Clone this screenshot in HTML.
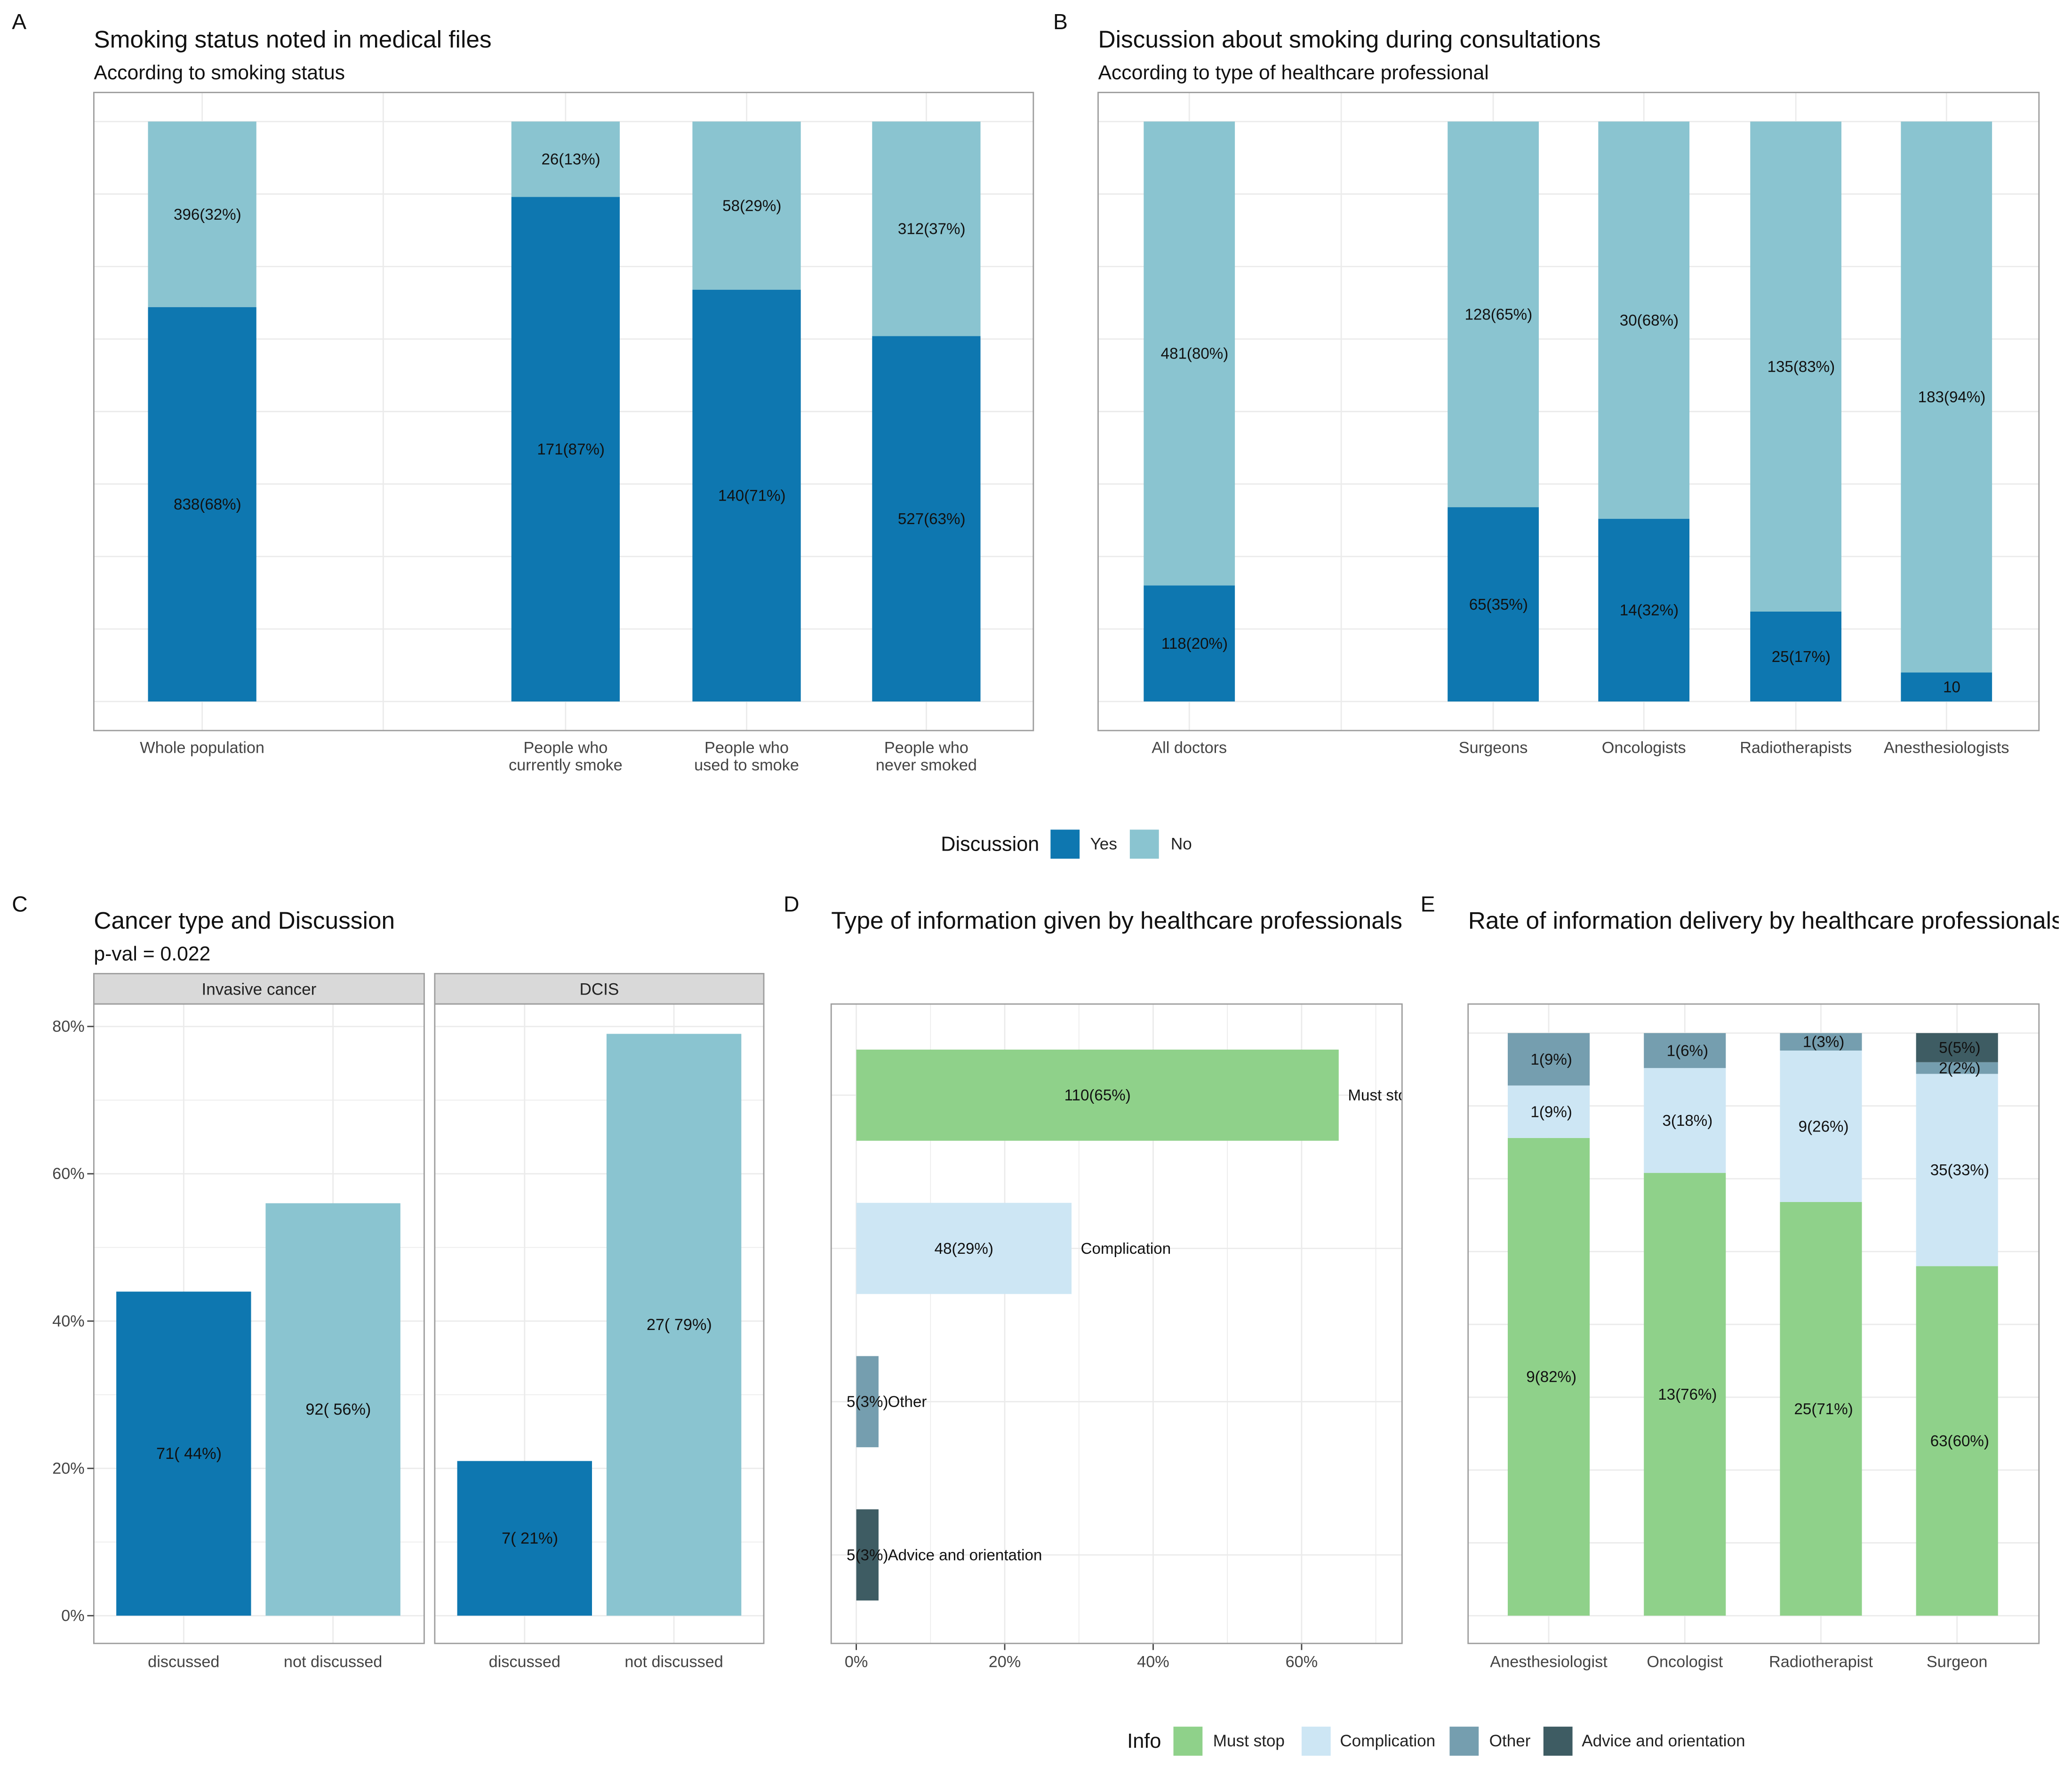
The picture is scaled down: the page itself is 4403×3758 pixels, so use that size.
<!DOCTYPE html>
<html><head><meta charset="utf-8"><style>
html,body{margin:0;padding:0;background:#fff;overflow:hidden;}
svg{display:block;font-family:"Liberation Sans",Arial,sans-serif;}
</style></head><body>
<svg id="fig" width="4403" height="3758" viewBox="0 0 1568 1338.3" xmlns="http://www.w3.org/2000/svg"></svg>
<script>
// Panel A data
const aCats = ["Whole population", "", "People who\ncurrently smoke", "People who\nused to smoke", "People who\nnever smoked"];
const aYes = [68, null, 87, 71, 63];
const aYesLbl = ["838(68%)", "", "171(87%)", "140(71%)", "527(63%)"];
const aNoLbl = ["396(32%)", "", "26(13%)", "58(29%)", "312(37%)"];
// Panel B data
const bCats = ["All doctors", "", "Surgeons", "Oncologists", "Radiotherapists", "Anesthesiologists"];
const bYes = [20, null, 33.5, 31.5, 15.5, 5];
const bYesLbl = ["118(20%)", "", "65(35%)", "14(32%)", "25(17%)", "10"];
const bNoLbl = ["481(80%)", "", "128(65%)", "30(68%)", "135(83%)", "183(94%)"];
// Panel C data
const cFacets = ["Invasive cancer", "DCIS"];
const cCats = ["discussed", "not discussed"];
const cVals = [[44, 56], [21, 79]];
const cLbls = [["71( 44%)", "92( 56%)"], ["7( 21%)", "27( 79%)"]];
const cTicks = [0, 20, 40, 60, 80];
// Panel D data
const dCats = ["Must stop", "Complication", "Other", "Advice and orientation"];
const dVals = [65, 29, 3, 3];
const dLbls = ["110(65%)", "48(29%)", "5(3%)", "5(3%)"];
const dTicks = [0, 20, 40, 60];
// Panel E data
const eCats = ["Anesthesiologist", "Oncologist", "Radiotherapist", "Surgeon"];
const eMust = [82, 76, 71, 60];
const eComp = [9, 18, 26, 33];
const eOther = [9, 6, 3, 2];
const eAdvice = [0, 0, 0, 5];
const eMustLbl = ["9(82%)", "13(76%)", "25(71%)", "63(60%)"];
const eCompLbl = ["1(9%)", "3(18%)", "9(26%)", "35(33%)"];
const eOtherLbl = ["1(9%)", "1(6%)", "1(3%)", "2(2%)"];
const eAdviceLbl = ["", "", "", "5(5%)"];

const YES="#0e77b0", NO="#8ac4d0", MUST="#8fd18a", COMP="#cde6f4", OTH="#759eaf", ADV="#3e5c63", GRID="#ebebeb", BORDER="#9d9d9d";
const VL=11.8, TK=12.2;
const svg=document.getElementById('fig');
const NS="http://www.w3.org/2000/svg";
function el(tag,attrs,parent){const e=document.createElementNS(NS,tag);for(const k in attrs)e.setAttribute(k,attrs[k]);(parent||svg).appendChild(e);return e;}
function txt(x,y,s,size,anchor,fill,parent){
  const lines=String(s).split("\n");
  const t=el('text',{x:x,y:y,'font-size':size,'text-anchor':anchor||'start',fill:fill||'#222'},parent);
  lines.forEach((ln,i)=>{const ts=el('tspan',{x:x,dy:i?size*1.08:0},t);ts.textContent=ln;});
  return t;
}
function g(name){const e=el('g',{});return e;}
function box(x1,y1,x2,y2,parent){const r=el('rect',{x:x1,y:y1,width:x2-x1,height:y2-y1,fill:'none',stroke:BORDER,'stroke-width':1},parent);}
function titles(letter,lx,ly,title,tx,ty,sub){
  const t=g('panel-'+letter.toLowerCase()+'-title');
  txt(lx,ly,letter,16.5,'start','#111',t);
  txt(tx,ty,title,18.3,'start','#111',t);
  if(sub) txt(tx,ty+24,sub,15.2,'start','#111',t);
}

function yesNoPanel(id,x1,x2,y1,y2,centers,cats,yes,yl,nl,bw){
  const p=g(id);
  const top=92,bot=531;
  const ys=v=>bot-(bot-top)*v/100;
  for(let i=0;i<=8;i++){const y=ys(i*12.5);el('line',{x1:x1,x2:x2,y1:y,y2:y,stroke:GRID},p);}
  centers.forEach(c=>el('line',{x1:c,x2:c,y1:y1,y2:y2,stroke:GRID},p));
  cats.forEach((c,i)=>{
    if(yes[i]!==null){
      const r1=el('rect',{x:centers[i]-bw/2,y:ys(100),width:bw,height:ys(yes[i])-ys(100),fill:NO},p);
      
      const r2=el('rect',{x:centers[i]-bw/2,y:ys(yes[i]),width:bw,height:bot-ys(yes[i]),fill:YES},p);
      
      txt(centers[i]+4,(ys(yes[i])+bot)/2+4,yl[i],VL,'middle','#111',p);
      txt(centers[i]+4,(ys(yes[i])+top)/2+4,nl[i],VL,'middle','#111',p);
    }
    if(c) txt(centers[i],570,c,TK,'middle','#444',p);
  });
  box(x1,y1,x2,y2,p);
}
titles('A',9,22,'Smoking status noted in medical files',71,36,'According to smoking status');
yesNoPanel('panel-a',71,782,70,553,[153,290,428,565,701],aCats,aYes,aYesLbl,aNoLbl,82);
titles('B',797,22,'Discussion about smoking during consultations',831,36,'According to type of healthcare professional');
yesNoPanel('panel-b',831,1543,70,553,[900,1015,1130,1244,1359,1473],bCats,bYes,bYesLbl,bNoLbl,69);

(function(){const p=g('legend-discussion');
txt(712,644,'Discussion',15.4,'start','#111',p);
let r=el('rect',{x:795,y:628,width:22,height:22,fill:YES},p);
txt(825,643,'Yes',12.5,'start','#222',p);
r=el('rect',{x:855,y:628,width:22,height:22,fill:NO},p);
txt(886,643,'No',12.5,'start','#222',p);})();

titles('C',9,690,'Cancer type and Discussion',71,703,'p-val = 0.022');
(function(){const p=g('panel-c');
 const y0=1223,y80=777;const ys=v=>y0-(y0-y80)*v/80;
 const facets=[[71,321,[139,252]],[329,578,[397,510]]];
 facets.forEach((f,fi)=>{
   const [x1,x2,cs]=f;
   const s=el('rect',{x:x1,y:737,width:x2-x1,height:23,fill:'#d9d9d9',stroke:BORDER},p);
   txt((x1+x2)/2,753,cFacets[fi],12.5,'middle','#222',p);
   for(let v=0;v<=80;v+=10){const y=ys(v);el('line',{x1:x1,x2:x2,y1:y,y2:y,stroke:GRID,'stroke-width':v%20?0.6:1},p);}
   cs.forEach(c=>el('line',{x1:c,x2:c,y1:760,y2:1244,stroke:GRID},p));
   cCats.forEach((c,i)=>{
     const r=el('rect',{x:cs[i]-51,y:ys(cVals[fi][i]),width:102,height:y0-ys(cVals[fi][i]),fill:i?NO:YES},p);
     
     txt(cs[i]+4,(ys(cVals[fi][i])+y0)/2+4,cLbls[fi][i],12.2,'middle','#111',p);
     txt(cs[i],1262,c,TK,'middle','#444',p);
   });
   box(x1,760,x2,1244,p);
 });
 cTicks.forEach(t=>{txt(64,ys(t)+4,t+'%',TK,'end','#444',p);el('line',{x1:66,x2:71,y1:ys(t),y2:ys(t),stroke:'#444'},p);});
})();

titles('D',593,690,'Type of information given by healthcare professionals',629,703,'');
(function(){const p=g('panel-d');
 const xs=v=>648+(985-648)*v/60;const ycs=[829,945,1061,1177];const cols=[MUST,COMP,OTH,ADV];
 for(let v=0;v<=70;v+=10)el('line',{x1:xs(v),x2:xs(v),y1:760,y2:1244,stroke:GRID,'stroke-width':v%20?0.6:1},p);
 ycs.forEach(y=>el('line',{x1:629,x2:1061,y1:y,y2:y,stroke:GRID},p));
 const clip=el('clipPath',{id:'dclip'},p);el('rect',{x:629,y:760,width:432,height:484},clip);
 const inner=el('g',{'clip-path':'url(#dclip)'},p);
 dCats.forEach((c,i)=>{
   const r=el('rect',{x:xs(0),y:ycs[i]-34.5,width:xs(dVals[i])-xs(0),height:69,fill:cols[i]},inner);
   
   txt((xs(0)+xs(dVals[i]))/2,ycs[i]+4,dLbls[i],VL,'middle','#111',inner);
   txt(xs(dVals[i])+7,ycs[i]+4,c,VL,'start','#111',inner);
 });
 dTicks.forEach(t=>{txt(xs(t),1262,t+'%',TK,'middle','#444',p);el('line',{x1:xs(t),x2:xs(t),y1:1244,y2:1249,stroke:'#444'},p);});
 box(629,760,1061,1244,p);
})();

titles('E',1075,690,'Rate of information delivery by healthcare professionals',1111,703,'');
(function(){const p=g('panel-e');
 const y0=1223,y1=782;const ys=v=>y0-(y0-y1)*v/100;const cs=[1172,1275,1378,1481];
 for(let v=0;v<=100;v+=12.5)el('line',{x1:1111,x2:1543,y1:ys(v),y2:ys(v),stroke:GRID},p);
 cs.forEach(c=>el('line',{x1:c,x2:c,y1:760,y2:1244,stroke:GRID},p));
 const series=[[eMust,eMustLbl,MUST,'must-stop'],[eComp,eCompLbl,COMP,'complication'],[eOther,eOtherLbl,OTH,'other'],[eAdvice,eAdviceLbl,ADV,'advice']];
 eCats.forEach((c,i)=>{
   let acc=0;
   series.forEach(s=>{
     const v=s[0][i];if(!v){return;}
     const r=el('rect',{x:cs[i]-31,y:ys(acc+v),width:62,height:ys(acc)-ys(acc+v),fill:s[2]},p);
     
     txt(cs[i]+2,(ys(acc)+ys(acc+v))/2+4,s[1][i],VL,'middle','#111',p);
     acc+=v;
   });
   txt(cs[i],1262,c,TK,'middle','#444',p);
 });
 box(1111,760,1543,1244,p);
})();
el('rect',{x:1558,y:680,width:20,height:40,fill:'#fff'});

(function(){const p=g('legend-info');
 txt(853,1323,'Info',15.4,'start','#111',p);
 const items=[[888,918,MUST,'Must stop'],[985,1014,COMP,'Complication'],[1097,1127,OTH,'Other'],[1168,1197,ADV,'Advice and orientation']];
 items.forEach(it=>{const r=el('rect',{x:it[0],y:1307,width:22,height:22,fill:it[2]},p);txt(it[1],1322,it[3],12.5,'start','#222',p);});
})();
</script>
</body></html>
